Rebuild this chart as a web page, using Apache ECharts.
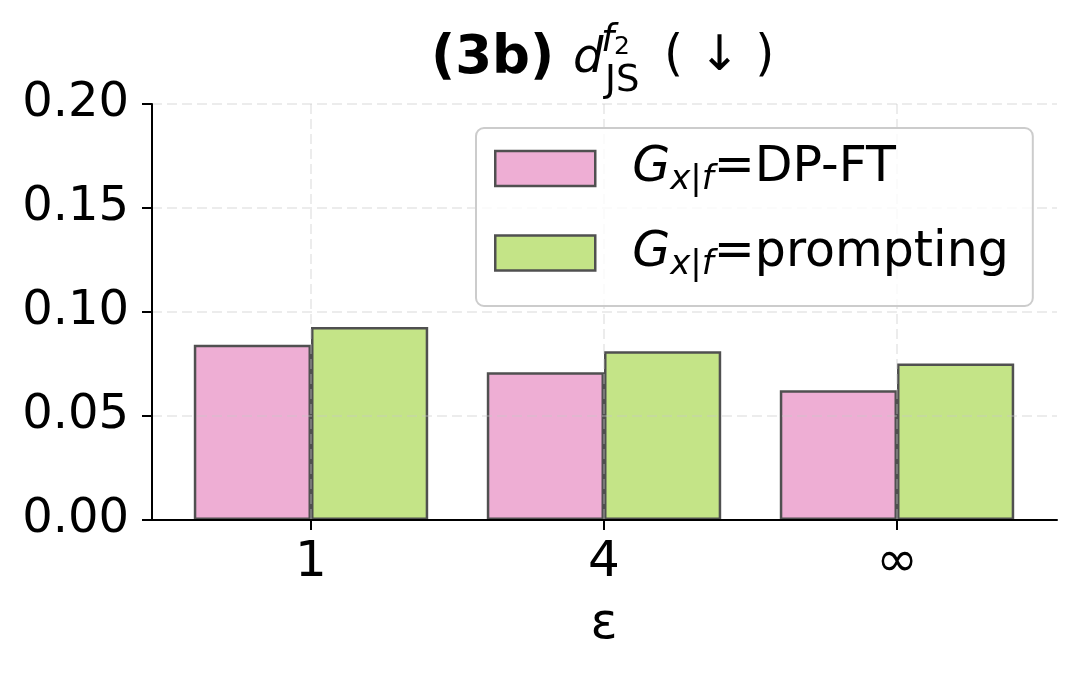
<!DOCTYPE html>
<html>
<head>
<meta charset="utf-8">
<title>(3b) d_JS^f2</title>
<script src="https://cdn.jsdelivr.net/npm/echarts@6/dist/echarts.min.js"></script>
</head>
<body style="margin:0">
<div id="chart" style="width:1078px;height:677px;"></div>
<script>
var categories = ['1', '4', '∞'];
var dpft = [0.0843, 0.0710, 0.0624];
var prompting = [0.0928, 0.0811, 0.0752];
var yMin = 0, yMax = 0.2, yStep = 0.05;

var FONT = 'DejaVu Sans';
var gridLine = {show: true, lineStyle: {color: 'rgba(200,200,200,0.45)', width: 1.5, type: [10, 5]}};

var chart = echarts.init(document.getElementById('chart'));
chart.setOption({
    backgroundColor: '#fff',
    textStyle: {fontFamily: FONT},
    grid: [
        {left: 152, right: 21, top: 104, bottom: 157},
        {left: 164.5, right: 34.5, top: 104, bottom: 157}
    ],
    graphic: [
        {type: 'text', left: 431, top: 33, style: {text: '(3b)', font: 'bold 53px DejaVu Sans', fill: '#000'}},
        {type: 'text', left: 573, top: 36, style: {text: 'd', font: 'italic 48px DejaVu Sans', fill: '#000'}},
        {type: 'text', left: 601, top: 23, style: {
            text: '{f|f}{t|2}', rich: {
                f: {fontFamily: FONT, fontStyle: 'italic', fontSize: 37, fill: '#000'},
                t: {fontFamily: FONT, fontSize: 25, padding: [12, 0, 0, 0], fill: '#000'}
            }}},
        {type: 'text', left: 605, top: 63, style: {text: 'JS', font: '37px DejaVu Sans', fill: '#000'}},
        {type: 'text', left: 664, top: 33, style: {text: '( ↓ )', font: '49px DejaVu Sans', fill: '#000'}}
    ],
    legend: {
        orient: 'vertical',
        left: 476,
        top: 128,
        padding: [16, 24, 24, 18],
        itemWidth: 100,
        itemHeight: 35,
        itemGap: 31,
        icon: 'rect',
        backgroundColor: 'rgba(255,255,255,0.8)',
        borderColor: '#cccccc',
        borderWidth: 2,
        borderRadius: 8,
        itemStyle: {borderColor: '#505050', borderWidth: 2.5},
        formatter: function (name) {
            return '{sp| }{g|G}{s|x|f}{n|=' + name + '}';
        },
        textStyle: {
            rich: {
                sp: {width: 32, fontSize: 49},
                g: {fontFamily: FONT, fontStyle: 'italic', fontSize: 49, color: '#000'},
                s: {fontFamily: FONT, fontStyle: 'italic', fontSize: 34, color: '#000', padding: [24, 0, 0, 0]},
                n: {fontFamily: FONT, fontSize: 49, color: '#000'}
            }
        }
    },
    xAxis: [
        {
            gridIndex: 0, type: 'value', min: 0, max: 1, z: 3,
            axisLine: {show: true, lineStyle: {color: '#000', width: 2}},
            axisTick: {show: false}, axisLabel: {show: false}, splitLine: {show: false}
        },
        {
            gridIndex: 1, type: 'category', data: categories, z: 3,
            axisLine: {show: true, lineStyle: {color: '#000', width: 2}},
            axisTick: {show: true, alignWithLabel: true, length: 10, lineStyle: {color: '#000', width: 2}},
            axisLabel: {fontSize: 50, color: '#000', margin: 18, fontFamily: FONT},
            splitLine: Object.assign({alignWithLabel: true}, gridLine),
            name: 'ε', nameLocation: 'middle', nameGap: 80,
            nameTextStyle: {fontSize: 50, color: '#000', fontFamily: FONT}
        }
    ],
    yAxis: [
        {
            gridIndex: 0, type: 'value', min: yMin, max: yMax, interval: yStep, z: 3,
            axisLine: {show: true, lineStyle: {color: '#000', width: 2}},
            axisTick: {show: true, length: 10, lineStyle: {color: '#000', width: 2}},
            axisLabel: {fontSize: 48, color: '#000', margin: 23, fontFamily: FONT,
                formatter: function (v) { return v.toFixed(2); }},
            splitLine: gridLine
        },
        {gridIndex: 1, type: 'value', min: yMin, max: yMax, show: false}
    ],
    series: [
        {
            name: 'DP-FT', type: 'bar', data: dpft, xAxisIndex: 1, yAxisIndex: 1,
            barWidth: '40%', barGap: '0%', z: 2,
            itemStyle: {color: '#eeaed4', borderColor: '#505050', borderWidth: 2.5}
        },
        {
            name: 'prompting', type: 'bar', data: prompting, xAxisIndex: 1, yAxisIndex: 1,
            barWidth: '40%', barGap: '0%', z: 2,
            itemStyle: {color: '#c4e487', borderColor: '#505050', borderWidth: 2.5}
        }
    ]
});
</script>
</body>
</html>
